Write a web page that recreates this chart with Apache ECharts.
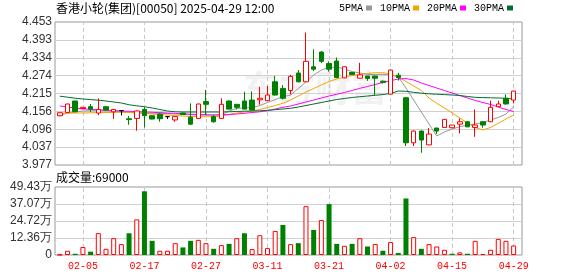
<!DOCTYPE html>
<html><head><meta charset="utf-8">
<script src="https://cdn.jsdelivr.net/npm/echarts@6/dist/echarts.min.js"></script>
<style>html,body{margin:0;padding:0;background:#fff}#c{width:578px;height:276px}</style>
</head><body><div id="c"></div>
<script>
const dates = ['01-28','02-03','02-04','02-05','02-06','02-07','02-10','02-11','02-12','02-13','02-14','02-17','02-18','02-19','02-20','02-21','02-24','02-25','02-26','02-27','02-28','03-03','03-04','03-05','03-06','03-07','03-10','03-11','03-12','03-13','03-14','03-17','03-18','03-19','03-20','03-21','03-24','03-25','03-26','03-27','03-28','03-31','04-01','04-02','04-03','04-07','04-08','04-09','04-10','04-11','04-14','04-15','04-16','04-17','04-22','04-23','04-24','04-25','04-28','04-29'];
const opens = [4.141,4.152,4.190,4.165,4.171,4.150,4.171,4.154,4.158,4.131,4.132,4.162,4.141,4.146,4.138,4.127,4.150,4.136,4.132,4.188,4.138,4.132,4.190,4.179,4.190,4.193,4.194,4.191,4.254,4.232,4.225,4.283,4.254,4.304,4.353,4.315,4.323,4.267,4.285,4.266,4.273,4.273,4.256,4.213,4.276,4.201,4.051,4.090,4.044,4.100,4.102,4.101,4.113,4.121,4.102,4.121,4.121,4.171,4.199,4.193];
const closes = [4.151,4.180,4.154,4.169,4.163,4.162,4.160,4.162,4.158,4.128,4.157,4.141,4.130,4.131,4.138,4.138,4.145,4.113,4.180,4.179,4.121,4.179,4.163,4.169,4.163,4.160,4.199,4.210,4.210,4.199,4.272,4.254,4.322,4.296,4.322,4.296,4.268,4.304,4.278,4.277,4.265,4.266,4.252,4.293,4.268,4.051,4.090,4.060,4.080,4.090,4.129,4.110,4.121,4.104,4.110,4.110,4.169,4.180,4.180,4.223];
const lows = [4.139,4.151,4.153,4.164,4.154,4.143,4.159,4.130,4.142,4.111,4.091,4.102,4.129,4.121,4.130,4.121,4.144,4.110,4.131,4.143,4.118,4.131,4.162,4.162,4.162,4.159,4.178,4.190,4.208,4.195,4.212,4.252,4.253,4.290,4.316,4.288,4.266,4.266,4.277,4.265,4.257,4.210,4.248,4.212,4.258,4.040,4.040,4.018,4.043,4.080,4.101,4.100,4.082,4.103,4.071,4.101,4.120,4.170,4.179,4.182];
const highs = [4.152,4.181,4.191,4.170,4.180,4.199,4.172,4.163,4.159,4.140,4.158,4.169,4.142,4.150,4.139,4.140,4.151,4.182,4.181,4.227,4.143,4.199,4.192,4.180,4.221,4.222,4.237,4.240,4.273,4.243,4.277,4.293,4.418,4.362,4.356,4.322,4.335,4.305,4.287,4.317,4.274,4.274,4.258,4.295,4.284,4.202,4.092,4.092,4.100,4.101,4.130,4.111,4.132,4.122,4.162,4.122,4.191,4.191,4.212,4.224];
const volumes = [2000,31000,9000,58000,24000,159000,45000,122000,79000,158000,259000,463000,103000,31000,31000,86000,55000,103000,110000,86000,45000,72000,81000,122000,158000,43000,144000,50000,175000,218000,79000,86000,355000,182000,254000,370000,81000,67000,81000,122000,62000,80000,31000,94000,14000,411000,130000,45000,79000,62000,38000,9000,19000,9000,103000,7000,38000,117000,103000,69000];
const volumeUp = [1,1,0,1,0,1,1,1,1,0,1,0,0,1,1,1,0,0,1,1,0,1,0,1,0,1,1,1,1,0,1,0,1,0,1,0,0,1,0,1,0,1,0,1,0,0,1,0,1,1,1,0,1,0,1,1,1,1,1,1];
const ma5 = [4.1417,4.1507,4.1541,4.1567,4.1574,4.1577,4.1574,4.1561,4.1544,4.1524,4.1507,4.1491,4.1491,4.1491,4.1484,4.1467,4.1457,4.1441,4.1434,4.1434,4.1434,4.1434,4.1567,4.1650,4.1667,4.1684,4.1750,4.1850,4.1950,4.2043,4.2100,4.2316,4.2533,4.2766,4.2932,4.3015,4.3032,4.2966,4.2882,4.2832,4.2782,4.2782,4.2789,4.2766,4.2709,4.2333,4.1933,4.1534,4.1134,4.0735,4.0868,4.0968,4.1045,4.1101,4.1134,4.1184,4.1268,4.1351,4.1467,4.1710];
const ma10 = [4.1484,4.1491,4.1501,4.1501,4.1507,4.1517,4.1517,4.1524,4.1524,4.1517,4.1501,4.1484,4.1467,4.1451,4.1434,4.1417,4.1401,4.1384,4.1377,4.1377,4.1377,4.1401,4.1451,4.1501,4.1534,4.1567,4.1617,4.1684,4.1750,4.1824,4.1933,4.2066,4.2200,4.2316,4.2433,4.2549,4.2633,4.2699,4.2749,4.2782,4.2816,4.2842,4.2842,4.2799,4.2699,4.2549,4.2399,4.2250,4.2000,4.1824,4.1667,4.1501,4.1334,4.1168,4.1018,4.0935,4.1018,4.1158,4.1301,4.1434];
const ma20 = [4.1734,4.1700,4.1667,4.1634,4.1624,4.1607,4.1594,4.1581,4.1567,4.1557,4.1547,4.1534,4.1524,4.1514,4.1501,4.1491,4.1474,4.1461,4.1451,4.1444,4.1434,4.1441,4.1451,4.1467,4.1491,4.1517,4.1541,4.1577,4.1634,4.1690,4.1734,4.1800,4.1867,4.1933,4.2000,4.2066,4.2123,4.2183,4.2250,4.2323,4.2383,4.2450,4.2516,4.2576,4.2633,4.2649,4.2599,4.2499,4.2416,4.2333,4.2250,4.2166,4.2083,4.2000,4.1917,4.1850,4.1784,4.1700,4.1617,4.1551];
const ma30 = [4.2060,4.2027,4.1993,4.1967,4.1947,4.1927,4.1900,4.1867,4.1834,4.1774,4.1740,4.1710,4.1667,4.1617,4.1567,4.1541,4.1534,4.1534,4.1534,4.1534,4.1534,4.1534,4.1541,4.1551,4.1561,4.1567,4.1574,4.1591,4.1611,4.1634,4.1657,4.1700,4.1750,4.1800,4.1850,4.1900,4.1950,4.1983,4.2017,4.2043,4.2066,4.2090,4.2116,4.2150,4.2233,4.2223,4.2190,4.2160,4.2140,4.2127,4.2113,4.2100,4.2083,4.2050,4.2023,4.2013,4.2007,4.2000,4.1990,4.1967];
const priceTicks = ['3.977','4.037','4.096','4.156','4.215','4.274','4.334','4.393','4.453'];
const volumeTicks = ['0','12.36万','24.72万','37.07万','49.43万'];
const dateTicks = ['02-05','02-17','02-27','03-11','03-21','04-02','04-15','04-29'];
const priceMin = 3.977, priceMax = 4.453, volumeMax = 494300;
const titleText = '香港小轮(集团)[00050] 2025-04-29 12:00';

const UP = '#ff0000', DOWN = '#008000';
const labelFont = "'Liberation Sans', Arial, sans-serif";
const monoFont = "'Liberation Mono', 'DejaVu Sans Mono', monospace";
const cjkFont = "'Noto Sans CJK SC', sans-serif";

const candleData = dates.map((d, i) => {
  const item = { value: [opens[i], closes[i], lows[i], highs[i]] };
  if (opens[i] === closes[i]) {
    item.itemStyle = { color: '#000', color0: '#000', borderColor: '#000', borderColor0: '#000' };
  }
  return item;
});
const volumeData = volumes.map((v, i) => ({
  value: v,
  itemStyle: volumeUp[i] ? { color: '#fff', borderColor: UP, borderWidth: 1 } : { color: DOWN, borderColor: DOWN, borderWidth: 0 }
}));
const dashLines = dateTicks.map(d => ({ xAxis: d }));
const markLineCfg = {
  silent: true, symbol: 'none', label: { show: false }, z: 1,
  lineStyle: { color: '#c8c8c8', type: [4, 3], width: 1 },
  data: dashLines, animation: false
};
const edgeSplit = (n) => (i) => i > 0 && i < n - 1;

const maDefs = [['5PMA', ma5, '#999999'], ['10PMA', ma10, '#f5a300'], ['20PMA', ma20, '#ff00ff'], ['30PMA', ma30, '#006e30']];

const chart = echarts.init(document.getElementById('c'), null, { renderer: 'canvas' });
chart.setOption({
  animation: false,
  backgroundColor: '#fff',
  title: [
    { text: titleText, left: 56, top: 2, padding: 0, textStyle: { fontSize: 12, fontWeight: 'normal', color: '#000', fontFamily: cjkFont } },
    { text: '成交量:' + volumes[volumes.length - 1], left: 56, top: 171, padding: 0, textStyle: { fontSize: 12, fontWeight: 'normal', color: '#000', fontFamily: cjkFont } }
  ],
  legend: {
    data: maDefs.map(m => m[0]), left: 339, top: 3, padding: 0,
    itemWidth: 6, itemHeight: 5, itemGap: 8, align: 'right', icon: 'rect', selectedMode: false,
    textStyle: { fontFamily: monoFont, fontSize: 10, color: '#000', padding: [0, -2, 0, 0] }
  },
  graphic: [{
    type: 'text', left: 243, top: 70, silent: true, z: -10,
    style: { text: '东方财富', fontSize: 36, fontWeight: 'bold', fill: 'rgba(0,0,0,0.055)', fontFamily: cjkFont }
  }],
  grid: [
    { left: 55, top: 22, width: 467, height: 143, show: true, borderColor: '#999', borderWidth: 1, backgroundColor: 'transparent' },
    { left: 56, top: 22, width: 461.5, height: 143 },
    { left: 55, top: 187, width: 467, height: 68, show: true, borderColor: '#999', borderWidth: 1, backgroundColor: 'transparent' },
    { left: 56, top: 187, width: 461.5, height: 68 }
  ],
  xAxis: [
    { type: 'value', gridIndex: 0, show: false, min: 0, max: 1 },
    { type: 'category', gridIndex: 1, data: dates, boundaryGap: true, axisLine: { show: false }, axisTick: { show: false }, axisLabel: { show: false }, splitLine: { show: false } },
    { type: 'value', gridIndex: 2, show: false, min: 0, max: 1 },
    { type: 'category', gridIndex: 3, data: dates, boundaryGap: true, axisLine: { show: false }, axisTick: { show: false }, splitLine: { show: false },
      axisLabel: { interval: (i, v) => dateTicks.includes(v), color: UP, fontFamily: monoFont, fontSize: 10, margin: 6 } }
  ],
  yAxis: [
    { type: 'category', gridIndex: 0, data: priceTicks, boundaryGap: false, axisLine: { show: false }, axisTick: { show: false },
      axisLabel: { interval: 0, color: '#333', fontFamily: labelFont, fontSize: 12, margin: 3 },
      splitLine: { show: true, interval: edgeSplit(priceTicks.length), lineStyle: { color: '#d0d0d0', width: 1 } } },
    { type: 'value', gridIndex: 1, min: priceMin, max: priceMax, show: false, splitLine: { show: false } },
    { type: 'category', gridIndex: 2, data: volumeTicks, boundaryGap: false, axisLine: { show: false }, axisTick: { show: false },
      axisLabel: { interval: 0, color: '#333', fontFamily: labelFont, fontSize: 12, margin: 3 },
      splitLine: { show: true, interval: edgeSplit(volumeTicks.length), lineStyle: { color: '#d0d0d0', width: 1 } } },
    { type: 'value', gridIndex: 3, min: 0, max: volumeMax, show: false, splitLine: { show: false } }
  ],
  series: [
    ...maDefs.map((m, k) => ({
      name: m[0], type: 'line', xAxisIndex: 1, yAxisIndex: 1, data: m[1], symbol: 'none', showSymbol: false,
      color: m[2], lineStyle: { color: m[2], width: 1 }, z: 2, silent: true,
      markLine: k === 0 ? markLineCfg : undefined
    })),
    {
      name: 'K', type: 'candlestick', xAxisIndex: 1, yAxisIndex: 1, data: candleData, barWidth: 5, z: 4,
      itemStyle: { color: '#fff', color0: DOWN, borderColor: UP, borderColor0: DOWN, borderWidth: 1 }
    },
    {
      name: 'VOL', type: 'bar', xAxisIndex: 3, yAxisIndex: 3, data: volumeData, barWidth: 5, z: 4,
      markLine: markLineCfg
    }
  ]
});
</script></body></html>
